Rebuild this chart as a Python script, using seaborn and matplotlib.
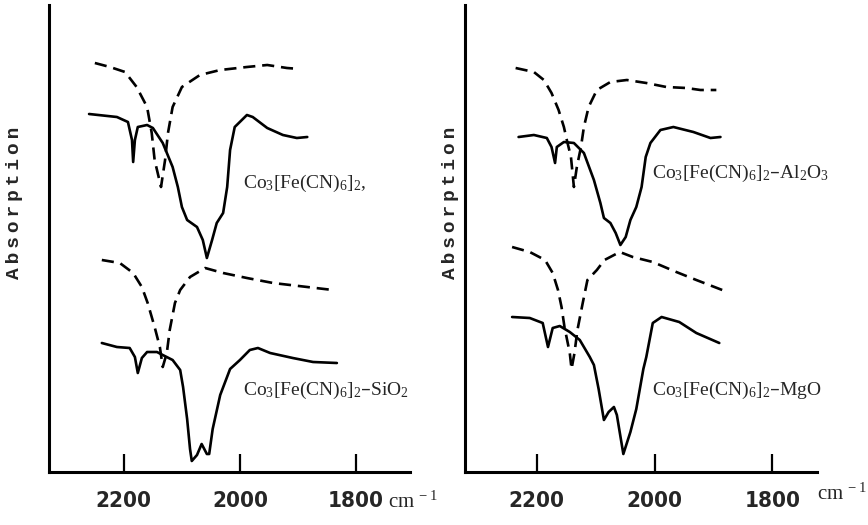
import numpy as np
import pandas as pd
import matplotlib
matplotlib.use("Agg")
import matplotlib.pyplot as plt
from matplotlib import font_manager
from matplotlib.ft2font import FT2Font
import seaborn as sns

# ---------------- data (wavenumber cm-1, absorption arbitrary units) ----------------
# Left panel, upper pair: Co3[Fe(CN)6]2
l1_dash_wn = [2250, 2224, 2198, 2178, 2160, 2152, 2147, 2136, 2129, 2124, 2116, 2100, 2069, 2034, 1988, 1953, 1919, 1897]
l1_dash_ab = [409, 405, 400, 385, 365, 339, 312, 285, 312, 339, 365, 385, 397, 402, 405, 407, 404, 403]
l1_solid_wn = [2260, 2212, 2193, 2186, 2184, 2181, 2176, 2160, 2150, 2133, 2116, 2107, 2100, 2091, 2074, 2064, 2057,
               2048, 2040, 2029, 2022, 2017, 2009, 1988, 1978, 1953, 1926, 1902, 1884]
l1_solid_ab = [358, 355, 350, 332, 310, 332, 345, 347, 344, 329, 305, 285, 265, 252, 245, 232, 214,
               232, 249, 259, 285, 322, 345, 357, 355, 344, 337, 334, 335]

# Left panel, lower pair: Co3[Fe(CN)6]2-SiO2
l2_dash_wn = [2238, 2207, 2184, 2169, 2159, 2147, 2138, 2133, 2126, 2121, 2112, 2103, 2086, 2060, 2029, 1988, 1943, 1884, 1840]
l2_dash_ab = [212, 209, 199, 185, 169, 145, 125, 105, 119, 142, 169, 182, 195, 204, 199, 194, 189, 185, 182]
l2_solid_wn = [2238, 2212, 2190, 2181, 2176, 2169, 2160, 2143, 2133, 2116, 2103, 2098, 2091, 2086, 2083, 2074, 2066,
               2057, 2053, 2047, 2034, 2017, 2000, 1983, 1969, 1948, 1909, 1874, 1833]
l2_solid_ab = [129, 125, 124, 115, 99, 114, 120, 120, 117, 112, 102, 85, 53, 23, 11, 17, 28,
               18, 18, 43, 77, 103, 112, 122, 124, 119, 114, 110, 109]

# Right panel, upper pair: Co3[Fe(CN)6]2-Al2O3
r1_dash_wn = [2236, 2205, 2188, 2175, 2163, 2154, 2149, 2142, 2137, 2132, 2125, 2120, 2112, 2098, 2075, 2047, 2014, 1980, 1946, 1922, 1895]
r1_dash_ab = [404, 400, 392, 379, 362, 345, 332, 315, 285, 305, 325, 345, 365, 382, 390, 392, 389, 385, 384, 382, 382]
r1_solid_wn = [2231, 2205, 2183, 2175, 2169, 2166, 2154, 2137, 2120, 2103, 2092, 2086, 2075, 2066, 2058, 2049, 2041,
               2031, 2022, 2015, 2007, 1990, 1968, 1934, 1905, 1888]
r1_solid_ab = [335, 337, 334, 325, 309, 325, 330, 329, 319, 292, 269, 254, 249, 239, 227, 235, 252,
               265, 285, 315, 329, 342, 345, 340, 334, 335]

# Right panel, lower pair: Co3[Fe(CN)6]2-MgO
r2_dash_wn = [2242, 2212, 2186, 2173, 2164, 2158, 2153, 2144, 2141, 2136, 2131, 2122, 2114, 2098, 2085, 2059, 2037, 2003, 1963, 1929, 1885]
r2_dash_ab = [225, 220, 212, 199, 182, 165, 145, 119, 103, 119, 142, 169, 192, 202, 212, 220, 215, 210, 200, 192, 182]
r2_solid_wn = [2242, 2212, 2190, 2181, 2173, 2161, 2144, 2127, 2110, 2103, 2095, 2086, 2078, 2069, 2064, 2053, 2041,
               2031, 2019, 2014, 2003, 1988, 1958, 1929, 1890]
r2_solid_ab = [155, 154, 149, 125, 144, 146, 140, 132, 115, 107, 83, 52, 60, 65, 57, 18, 40,
               63, 103, 115, 149, 155, 150, 139, 129]

x_ticks = [2200, 2000, 1800]
x_ticklabels = ["2200", "2000", "1800"]
labels_left = [r"Co$\mathregular{_3}$[Fe(CN)$\mathregular{_6}$]$\mathregular{_2}$,",
               r"Co$\mathregular{_3}$[Fe(CN)$\mathregular{_6}$]$\mathregular{_2}$–SiO$\mathregular{_2}$"]
labels_right = [r"Co$\mathregular{_3}$[Fe(CN)$\mathregular{_6}$]$\mathregular{_2}$–Al$\mathregular{_2}$O$\mathregular{_3}$",
                r"Co$\mathregular{_3}$[Fe(CN)$\mathregular{_6}$]$\mathregular{_2}$–MgO"]
y_label = "Absorption"
x_unit = r"cm$\mathregular{^{\,-1}}$"

# ---------------- fonts ----------------
sns.set_style("ticks")


def font_ok(name, weight="normal", stretch="normal"):
    try:
        p = font_manager.findfont(font_manager.FontProperties(family=name, weight=weight, stretch=stretch),
                                  fallback_to_default=False)
        return p
    except Exception:
        return None


cond_path = font_ok("DejaVu Sans", "bold", "condensed")
if cond_path and "ondensed" in cond_path:
    tick_kw = dict(fontfamily="DejaVu Sans", fontweight="bold", fontstretch="condensed", fontsize=16)
else:
    tick_kw = dict(fontfamily="Liberation Sans", fontweight="bold", fontsize=15)

mono_path = font_ok("Liberation Mono", "bold")
mono_font = "Liberation Mono" if mono_path else "DejaVu Sans Mono"

# letter-spaced y label: use a narrow space from DejaVu Sans if the mono font lacks it
spacer = None
if mono_path:
    cmap = FT2Font(mono_path).get_charmap()
    for ch in ["\u2009", "\u2006", "\u200a"]:
        if ord(ch) not in cmap:
            spacer = ch
            break
if spacer is None:
    ylabel_text = " ".join(y_label)
    ylabel_size = 10.5
else:
    ylabel_text = spacer.join(y_label)
    ylabel_size = 14

plt.rcParams["font.family"] = ["Liberation Serif", "DejaVu Sans"]

# ---------------- figure ----------------
fig = plt.figure(figsize=(8.68, 5.25), dpi=100)
W, H = 868, 525
ax_l = fig.add_axes([49 / W, 53 / H, (410 - 49) / W, 467 / H])
ax_r = fig.add_axes([465 / W, 53 / H, (817 - 465) / W, 467 / H])

lw = 1.9
dash = (0, (4.6, 2.6))


def draw(ax, wn, ab, dashed):
    df = pd.DataFrame({"wavenumber": wn, "absorption": ab})
    sns.lineplot(data=df, x="wavenumber", y="absorption", ax=ax, color="black",
                 linewidth=lw, estimator=None, sort=False,
                 linestyle=dash if dashed else "-")


draw(ax_l, l1_dash_wn, l1_dash_ab, True)
draw(ax_l, l1_solid_wn, l1_solid_ab, False)
draw(ax_l, l2_dash_wn, l2_dash_ab, True)
draw(ax_l, l2_solid_wn, l2_solid_ab, False)
draw(ax_r, r1_dash_wn, r1_dash_ab, True)
draw(ax_r, r1_solid_wn, r1_solid_ab, False)
draw(ax_r, r2_dash_wn, r2_dash_ab, True)
draw(ax_r, r2_solid_wn, r2_solid_ab, False)

ax_l.set_xlim(2329, 1707)
ax_r.set_xlim(2322, 1724)

for ax, ylx in [(ax_l, -0.072), (ax_r, -0.016)]:
    ax.set_ylim(0, 467)
    ax.set_yticks([])
    ax.set_xticks(x_ticks)
    ax.set_xticklabels(x_ticklabels, **tick_kw)
    ax.tick_params(axis="x", direction="in", length=13, width=1.6, pad=14, color="black")
    for s in ["top", "right"]:
        ax.spines[s].set_visible(False)
    for s in ["left", "bottom"]:
        ax.spines[s].set_linewidth(2.2)
        ax.spines[s].set_color("black")
    ax.set_xlabel("")
    ax.set_ylabel(ylabel_text, fontfamily=[mono_font, "DejaVu Sans"], fontweight="bold",
                  fontsize=ylabel_size)
    ax.yaxis.set_label_coords(ylx, 0.576)
    ax.set_facecolor("white")

# curve labels
fig.text(243 / W, 1 - 183 / H, labels_left[0], fontsize=14, va="center", ha="left",
         fontfamily="Liberation Serif")
fig.text(243 / W, 1 - 390 / H, labels_left[1], fontsize=14, va="center", ha="left",
         fontfamily="Liberation Serif")
fig.text(652 / W, 1 - 173 / H, labels_right[0], fontsize=14, va="center", ha="left",
         fontfamily="Liberation Serif")
fig.text(652 / W, 1 - 390 / H, labels_right[1], fontsize=14, va="center", ha="left",
         fontfamily="Liberation Serif")

# unit labels
fig.text(388 / W, 1 - 508 / H, x_unit, fontsize=15, va="baseline", ha="left",
         fontfamily="Liberation Serif")
fig.text(817 / W, 1 - 500 / H, x_unit, fontsize=15, va="baseline", ha="left",
         fontfamily="Liberation Serif")

fig.patch.set_facecolor("white")
fig.savefig("out.png", dpi=100, facecolor="white")
